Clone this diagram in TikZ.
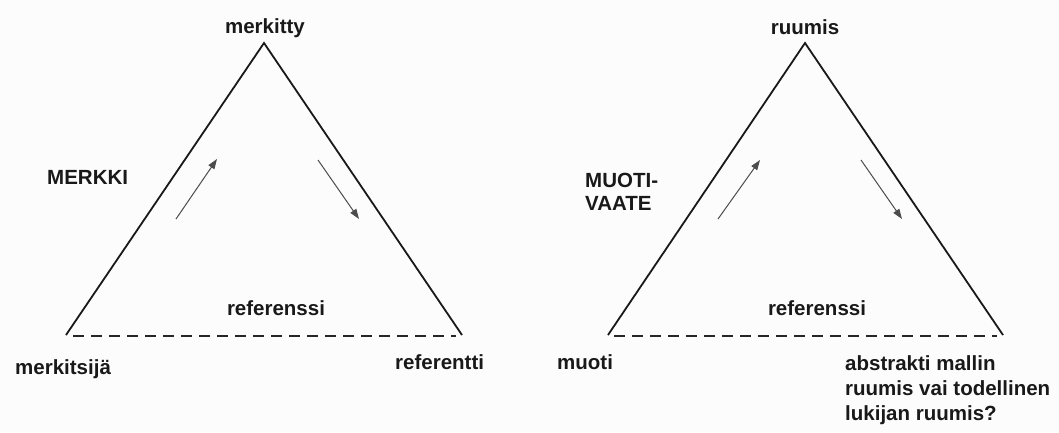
\documentclass[tikz,border=0pt]{standalone}
\usepackage{fontspec}
\setmainfont{Liberation Sans}
\usetikzlibrary{arrows.meta}
\begin{document}
\begin{tikzpicture}[x=1pt,y=-1pt,
  lbl/.style={font=\bfseries\fontsize{20.5}{25}\selectfont,inner sep=0pt,anchor=base,text=black!90},
  side/.style={line width=1.8pt,black!90},
  base/.style={line width=1.6pt,black!85,dash pattern=on 11pt off 7pt},
  flow/.style={line width=1pt,black!70,-{Triangle[length=10pt,width=7pt]}}]
\fill[black!1] (0,0) rectangle (1059,432);
\useasboundingbox (0,0) rectangle (1059,432);
% left triangle
\coordinate (LA) at (264,43);
\coordinate (LL) at (66,335);
\coordinate (LR) at (462,335);
\coordinate (LDa) at (73,336);
\coordinate (LDb) at (456,336);
\draw[side] (LL) -- (LA) -- (LR);
\draw[base] (LDa) -- (LDb);
\coordinate (la1) at (176,219); \coordinate (la2) at (217,159);
\coordinate (la3) at (318,160); \coordinate (la4) at (359,219);
\draw[flow] (la1) -- (la2);
\draw[flow] (la3) -- (la4);
\node[lbl] (merkitty) at (265,33) {merkitty};
\node[lbl,anchor=base west] (merkki) at (47,184) {MERKKI};
\node[lbl] (refL) at (276,315) {referenssi};
\node[lbl,anchor=base west] (merkitsija) at (15,374) {merkitsijä};
\node[lbl,anchor=base west] (referentti) at (395,369) {referentti};
% right triangle
\coordinate (RA) at (805,43);
\coordinate (RL) at (608,335);
\coordinate (RR) at (1003,335);
\coordinate (RDa) at (614,336);
\coordinate (RDb) at (997,336);
\draw[side] (RL) -- (RA) -- (RR);
\draw[base] (RDa) -- (RDb);
\coordinate (ra1) at (718,219); \coordinate (ra2) at (760,160);
\coordinate (ra3) at (861,160); \coordinate (ra4) at (902,219);
\draw[flow] (ra1) -- (ra2);
\draw[flow] (ra3) -- (ra4);
\node[lbl] (ruumis) at (805,34) {ruumis};
\node[lbl,anchor=base west] (muoti1) at (585,187) {MUOTI-};
\node[lbl,anchor=base west] (muoti2) at (585,210) {VAATE};
\node[lbl] (refR) at (817,315) {referenssi};
\node[lbl,anchor=base west] (muoti) at (557,369) {muoti};
\node[lbl,anchor=base west] (abs1) at (845,370) {abstrakti mallin};
\node[lbl,anchor=base west] (abs2) at (845,395) {ruumis vai todellinen};
\node[lbl,anchor=base west] (abs3) at (845,420) {lukijan ruumis?};
\end{tikzpicture}
\end{document}
